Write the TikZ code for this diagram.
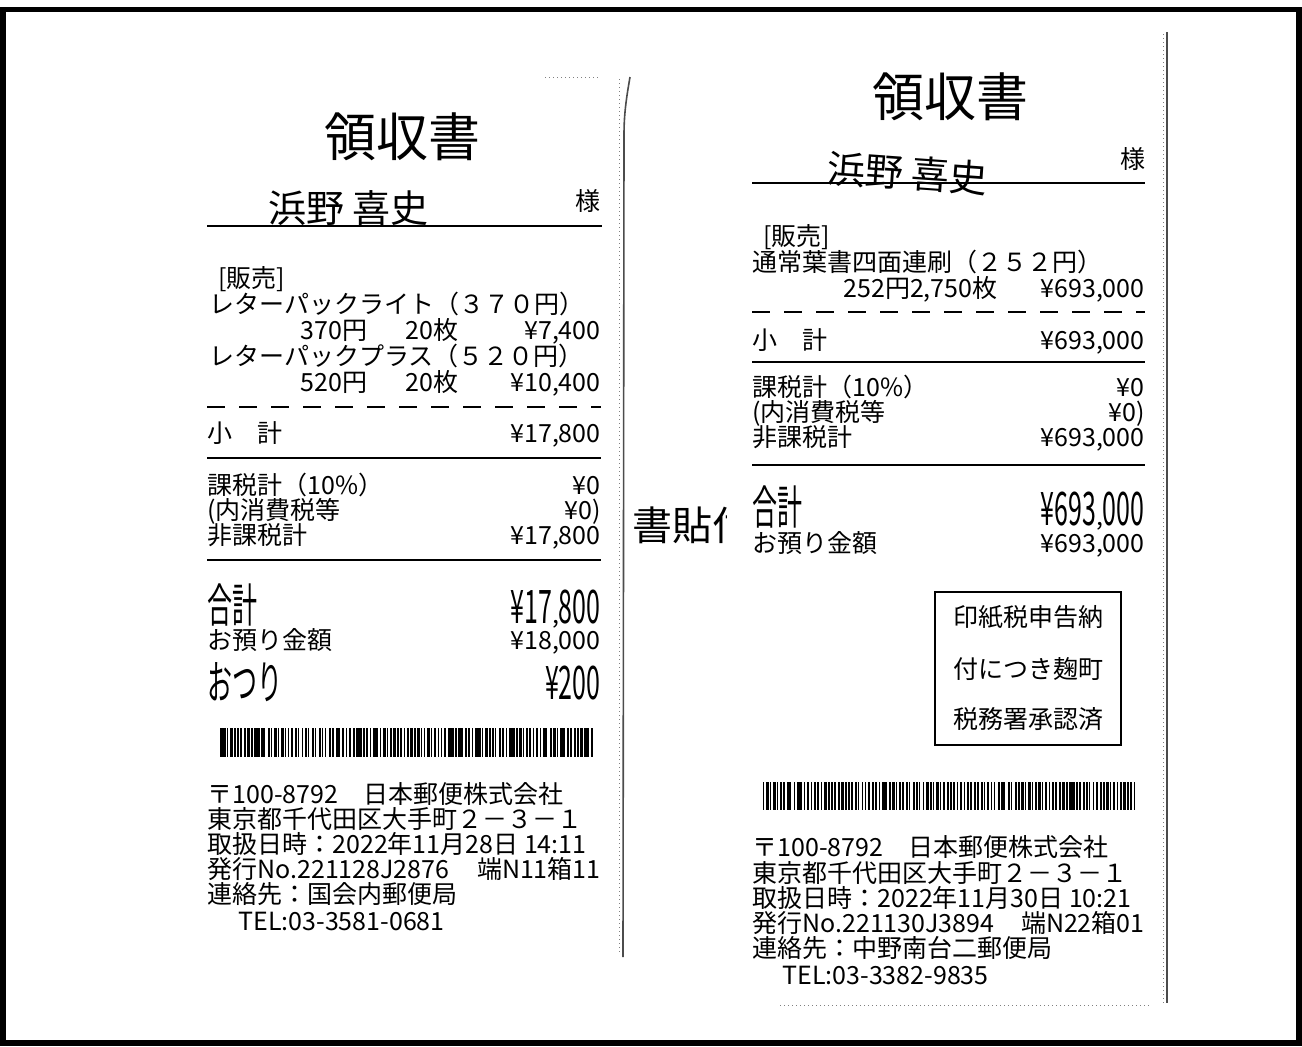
\documentclass[tikz,border=0pt]{standalone}
\usepackage{fontspec}
\usepackage{graphicx}
\newfontfamily\jp{Noto Sans CJK JP}
\newcommand{\dblh}[1]{\scalebox{1}[1.85]{#1}}
\tikzset{
  txt/.style={anchor=base west, inner sep=0pt, text height=10pt, text depth=1pt,
    font=\jp\fontsize{12.5}{13}\selectfont},
  num/.style={txt, anchor=base east},
  dbl/.style={text height=21pt, text depth=0pt},
  ttl/.style={anchor=base, inner sep=0pt, font=\jp\fontsize{26}{28}\selectfont},
  signature/.style={anchor=base west, inner sep=0pt, font=\jp\fontsize{19}{21}\selectfont},
  stamp/.style={txt, anchor=base},
  rule/.style={line width=1pt},
  dashrule/.style={line width=1pt, dash pattern=on 9pt off 7pt},
  paperedge/.style={line width=0.8pt, black!70},
  scandots/.style={line width=0.5pt, black!50, dash pattern=on 0.5pt off 1.5pt},
}
\begin{document}
\begin{tikzpicture}[x=0.5pt,y=-0.5pt]
\useasboundingbox (0,0) rectangle (1302,1046);
\draw[line width=2.6pt] (3,9.5) rectangle (1299,1043);

% paper edges
\draw[paperedge] (630,77) .. controls (626,100) and (624,115) .. (624,135) -- (623,957);
\draw[scandots] (619,79) -- (619,952);
\draw[scandots] (545,77) -- (600,77);
\draw[paperedge] (1167,32) -- (1167,1003);
\draw[scandots] (1163,34) -- (1163,1003);
\draw[scandots] (780,1005) -- (1150,1005);

% left receipt
\node[ttl] (ttlA) at (402,156) {領収書};
\node[signature] (nameA) at (268,222) {浜野 喜史};
\node[txt] (samaA) at (575,210) {様};
\draw[rule] (207,226) -- (602,226);
\node[txt] (hanA) at (218,287) {[販売]};
\node[txt] (itemA1) at (209,313) {レターパックライト（３７０円）};
\node[txt] (unitA1) at (300,339) {370円};
\node[txt] (qtyA1) at (405,339) {20枚};
\node[num] (sumA1) at (601,339) {¥7,400};
\node[txt] (itemA2) at (209,365) {レターパックプラス（５２０円）};
\node[txt] (unitA2) at (300,391) {520円};
\node[txt] (qtyA2) at (405,391) {20枚};
\node[num] (sumA2) at (601,391) {¥10,400};
\draw[dashrule] (207,407) -- (601,407);
\node[txt] (subA) at (207,442) {小　計};
\node[num] (subvA) at (601,442) {¥17,800};
\draw[rule] (207,458) -- (601,458);
\node[txt] (taxA) at (207,494) {課税計（10\%）};
\node[num] (taxvA) at (601,494) {¥0};
\node[txt] (inA) at (207,519) {(内消費税等};
\node[num] (invA) at (601,519) {¥0)};
\node[txt] (freeA) at (207,544) {非課税計};
\node[num] (freevA) at (601,544) {¥17,800};
\draw[rule] (207,560) -- (601,560);
\node[txt, dbl] (totA) at (207,622) {\dblh{合計}};
\node[num, dbl] (totvA) at (601,623) {\dblh{¥17},\dblh{800}};
\node[txt] (paidA) at (207,649) {お預り金額};
\node[num] (paidvA) at (601,649) {¥18,000};
\node[txt, dbl] (chgA) at (207,699) {\dblh{おつり}};
\node[num, dbl] (chgvA) at (601,699) {\dblh{¥200}};
\pgfmathsetseed{4}
\foreach \i in {0,...,109}
  {\pgfmathsetmacro{\bw}{0.8+2.2*rnd}
   \fill (220+\i*3.4,728) rectangle ++(\bw,29);}
\node[txt] (adA1) at (207,803) {〒100-8792　日本郵便株式会社};
\node[txt] (adA2) at (207,828) {東京都千代田区大手町２－３－１};
\node[txt] (adA3) at (207,853) {取扱日時：2022年11月28日 14:11};
\node[txt] (adA4) at (207,878) {発行No.221128J2876};
\node[num] (adA5) at (601,878) {端N11箱11};
\node[txt] (adA6) at (207,903) {連絡先：国会内郵便局};
\node[txt] (adA7) at (238,930) {TEL:03-3581-0681};

% stamp text between the receipts
\begin{scope}
  \clip (625,490) rectangle (726,560);
  \node[anchor=base west, inner sep=0pt, font=\jp\fontsize{20}{22}\selectfont] (paste) at (632,540) {書貼付};
\end{scope}

% right receipt
\node[ttl] (ttlB) at (950,116) {領収書};
\node[signature, rotate=-4] (nameB) at (826,182) {浜野 喜史};
\node[num] (samaB) at (1146,168) {様};
\draw[rule] (752,183) -- (1145,183);
\node[txt] (hanB) at (763,245) {[販売]};
\node[txt] (itemB) at (752,271) {通常葉書四面連刷（２５２円）};
\node[txt] (unitB) at (843,297) {252円2,750枚};
\node[num] (sumB) at (1145,297) {¥693,000};
\draw[dashrule] (752,312) -- (1145,312);
\node[txt] (subB) at (752,349) {小　計};
\node[num] (subvB) at (1145,349) {¥693,000};
\draw[rule] (752,362) -- (1145,362);
\node[txt] (taxB) at (752,396) {課税計（10\%）};
\node[num] (taxvB) at (1145,396) {¥0};
\node[txt] (inB) at (752,421) {(内消費税等};
\node[num] (invB) at (1145,421) {¥0)};
\node[txt] (freeB) at (752,446) {非課税計};
\node[num] (freevB) at (1145,446) {¥693,000};
\draw[rule] (752,465) -- (1145,465);
\node[txt, dbl] (totB) at (752,524) {\dblh{合計}};
\node[num, dbl] (totvB) at (1145,525) {\dblh{¥693},\dblh{000}};
\node[txt] (paidB) at (752,552) {お預り金額};
\node[num] (paidvB) at (1145,552) {¥693,000};
\draw[line width=0.8pt] (935,592) rectangle (1121,745);
\foreach \stl/\sty [count=\k] in {印紙税申告納/626, 付につき麹町/678, 税務署承認済/728}
  \node[stamp] (stamp\k) at (1028,\sty) {\stl};
\pgfmathsetseed{9}
\foreach \i in {0,...,109}
  {\pgfmathsetmacro{\bw}{0.8+2.2*rnd}
   \fill (763+\i*3.4,782) rectangle ++(\bw,28);}
\node[txt] (adB1) at (752,856) {〒100-8792　日本郵便株式会社};
\node[txt] (adB2) at (752,882) {東京都千代田区大手町２－３－１};
\node[txt] (adB3) at (752,907) {取扱日時：2022年11月30日 10:21};
\node[txt] (adB4) at (752,932) {発行No.221130J3894};
\node[num] (adB5) at (1145,932) {端N22箱01};
\node[txt] (adB6) at (752,957) {連絡先：中野南台二郵便局};
\node[txt] (adB7) at (782,984) {TEL:03-3382-9835};
\end{tikzpicture}
\end{document}
